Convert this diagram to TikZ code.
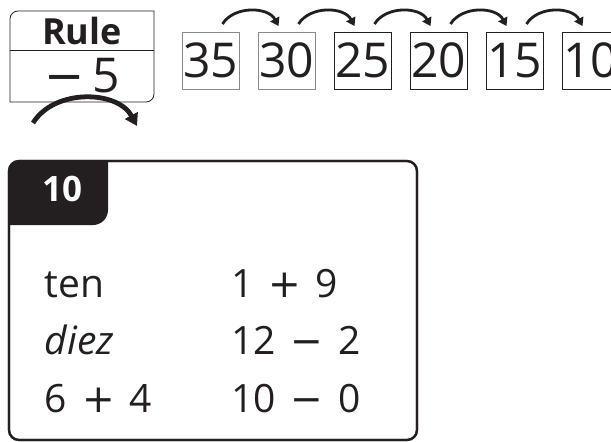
\documentclass[tikz,border=0pt]{standalone}
\usepackage{fontspec}
\setmainfont{Open Sans}
\newfontfamily\symfont{DejaVu Sans}
\usepackage{xcolor}
\usetikzlibrary{arrows.meta,positioning,calc}
\definecolor{ink}{HTML}{231F20}
\definecolor{frame}{HTML}{8A8A8A}
\newcommand{\opsp}{\hspace{15pt}}
\newcommand{\fsz}[1]{\fontsize{#1}{#1}\selectfont}
\newcommand{\plus}{{\symfont +}}
\newcommand{\minus}{{\symfont −}}
\tikzset{
  every node/.style={text=ink,inner sep=0pt,outer sep=0pt},
  numbox/.style={draw=ink,line width=0.8pt,minimum width=57pt,minimum height=57pt,font=\fsz{48}},
  greybox/.style={numbox,draw=frame},
  rulepart/.style={minimum width=144pt,align=center},
  rulebox/.style={draw=ink,line width=0.8pt},
  hop/.style={-{Triangle[length=8pt,width=10pt]},line width=2.8pt,draw=ink},
  bighop/.style={-{Triangle[length=12pt,width=14pt]},line width=4.8pt,draw=ink},
  card/.style={draw=ink,line width=2.2pt,rounded corners=10pt,minimum width=408pt,minimum height=279pt},
  row/.style={anchor=base west,font=\fsz{39}},
}

\begin{document}
\begin{tikzpicture}[x=1pt,y=1pt]
  \useasboundingbox (0,0) rectangle (611,-442);
  \clip (0,0) rectangle (611,-442);

  % rule box
  \node[rulepart,minimum height=39pt,font=\fsz{36}\bfseries] (rulehead) at (82,-30.5) {Rule};
  \node[rulepart,minimum height=52pt,font=\fsz{48},below=0pt of rulehead] (ruleval) {\minus\hspace{8pt}5};
  \draw[rulebox] (ruleval.south west) -- ([yshift=-8pt]rulehead.north west)
    arc[start angle=180,end angle=90,radius=8pt] -- (rulehead.north east)
    -- ([yshift=8pt]ruleval.south east) arc[start angle=0,end angle=-90,radius=8pt] -- cycle;
  \draw[rulebox] (rulehead.south west) -- (rulehead.south east);
  \draw[bighop] ([shift={(23,-21)}]ruleval.south west) to[bend left=60] ([shift={(-17,-24)}]ruleval.south east);

  % sequence
  \node[greybox] (n35) at (210.5,-60.5) {35};
  \node[greybox,right=19pt of n35] (n30) {30};
  \node[numbox,right=19pt of n30] (n25) {25};
  \node[numbox,right=19pt of n25] (n20) {20};
  \node[numbox,right=19pt of n20] (n15) {15};
  \node[numbox,right=19pt of n15] (n10) {10};
  \foreach \a/\b in {n35/n30,n30/n25,n25/n20,n20/n15,n15/n10}
    \draw[hop] ([shift={(12,8)}]\a.north) to[bend left=60] ([shift={(-8,6)}]\b.north);

  % number card
  \node[card] (card) at (213,-300.5) {};
  \fill[ink] ([yshift=-64pt]card.north west) -- ([yshift=-10pt]card.north west)
    arc[start angle=180,end angle=90,radius=10pt] -- ([xshift=99pt]card.north west)
    -- ([shift={(99pt,-49pt)}]card.north west) arc[start angle=0,end angle=-90,radius=15pt] -- cycle;
  \node[card] at (card) {};
  \node[font=\fsz{35}\bfseries,text=white] (tabnum) at (62,-189) {10};

  \node[row] (w1) at (45,-297) {ten};
  \node[row] (w2) at (45,-354) {\itshape diez};
  \node[row] (w3) at (45,-412) {6\opsp\plus\opsp4};
  \node[row] (e1) at (231,-297) {1\opsp\plus\opsp9};
  \node[row] (e2) at (231,-354) {12\opsp\minus\opsp2};
  \node[row] (e3) at (231,-412) {10\opsp\minus\opsp0};
\end{tikzpicture}
\end{document}
